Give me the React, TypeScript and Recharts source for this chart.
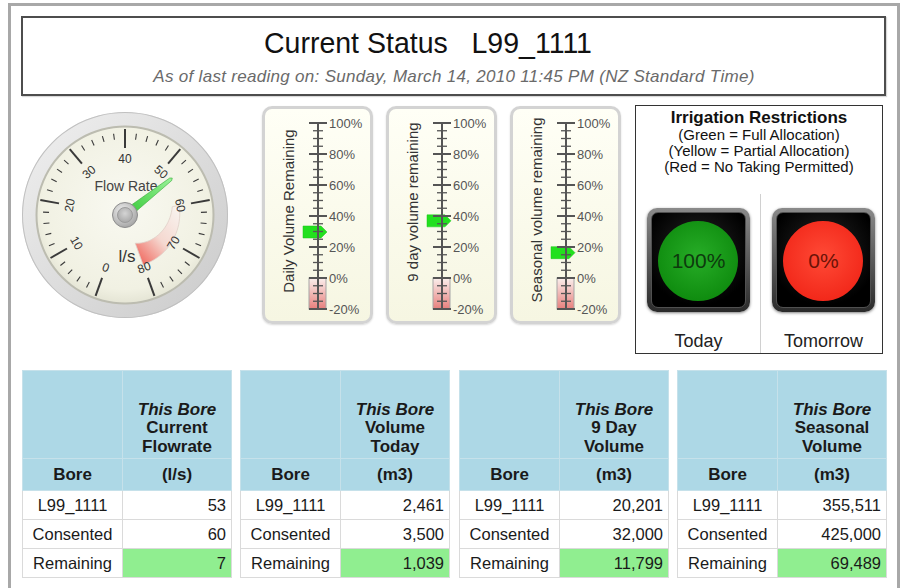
import React from 'react';
import {
  PieChart,
  Pie,
  Cell,
  RadialBarChart,
  RadialBar,
  PolarAngleAxis,
  BarChart,
  Bar,
  XAxis,
  YAxis,
  ReferenceArea,
} from 'recharts';

const FONT = '"Liberation Sans", Arial, Helvetica, sans-serif';

// header
const boreId = 'L99_1111';
const lastReading = 'Sunday, March 14, 2010 11:45 PM (NZ Standard Time)';

// bore tables
const tableTitles = [
  ['Current', 'Flowrate'],
  ['Volume', 'Today'],
  ['9 Day', 'Volume'],
  ['Seasonal', 'Volume'],
];
const tableUnits = ['(l/s)', '(m3)', '(m3)', '(m3)'];
const rowNames = [boreId, 'Consented', 'Remaining'];
const boreValues = [53, 2461, 20201, 355511];
const consentedValues = [60, 3500, 32000, 425000];
const remainingValues = [7, 1039, 11799, 69489];

// flow rate gauge
const gaugeMax = 80;
const gaugeTicks = [
  0, 2, 4, 6, 8, 10, 12, 14, 16, 18, 20, 22, 24, 26, 28, 30, 32, 34, 36, 38, 40,
  42, 44, 46, 48, 50, 52, 54, 56, 58, 60, 62, 64, 66, 68, 70, 72, 74, 76, 78, 80,
];

// volume remaining meters
const meterTitles = ['Daily Volume Remaining', '9 day volume remaining', 'Seasonal volume remaining'];
const meterTicks = [
  -20, -15, -10, -5, 0, 5, 10, 15, 20, 25, 30, 35, 40, 45, 50, 55, 60, 65, 70, 75, 80, 85, 90, 95, 100,
];
const meterValues = remainingValues.slice(1).map((r, i) => (r / consentedValues[i + 1]) * 100);

// irrigation restrictions
const restrictionDays = ['Today', 'Tomorrow'];
const restrictionAllocation = [100, 0];

const RAD = Math.PI / 180;
const polar = (cx: number, cy: number, r: number, a: number) => ({
  x: cx + r * Math.cos(-a * RAD),
  y: cy + r * Math.sin(-a * RAD),
});

// ---------- gauge ----------
const G_SIZE = 210;
const GC = 105;

function GaugeTick(props: any) {
  const { x, y, payload } = props;
  const v = Number(payload.value);
  const a = Math.atan2(-(y - GC), x - GC) / RAD;
  const major = v % 10 === 0;
  const p1 = polar(GC, GC, major ? 67 : 76, a);
  const p2 = polar(GC, GC, major ? 86 : 82, a);
  let rot = 90 - a;
  while (rot > 180) rot -= 360;
  while (rot < -180) rot += 360;
  if (rot > 95) rot -= 180;
  if (rot < -95) rot += 180;
  const lp = polar(GC, GC, 56, a);
  return (
    <g>
      <line x1={p1.x} y1={p1.y} x2={p2.x} y2={p2.y} stroke="#3a3a3a" strokeWidth={major ? 2 : 1.1} />
      {major && (
        <text
          x={lp.x}
          y={lp.y}
          textAnchor="middle"
          dominantBaseline="central"
          fontSize={12}
          fill="#333"
          fontFamily={FONT}
          transform={`rotate(${rot} ${lp.x} ${lp.y})`}
        >
          {v}
        </text>
      )}
    </g>
  );
}

function Needle(props: any) {
  const { cx, cy, endAngle } = props;
  const u = { x: Math.cos(-endAngle * RAD), y: Math.sin(-endAngle * RAD) };
  const n = { x: -u.y, y: u.x };
  const len = 58;
  const pts = [
    [cx + n.x * 4.5, cy + n.y * 4.5],
    [cx + u.x * len + n.x * 1.6, cy + u.y * len + n.y * 1.6],
    [cx + u.x * (len + 2), cy + u.y * (len + 2)],
    [cx + u.x * len - n.x * 1.6, cy + u.y * len - n.y * 1.6],
    [cx - n.x * 4.5, cy - n.y * 4.5],
  ]
    .map((p) => p.join(','))
    .join(' ');
  return (
    <g>
      <polygon points={pts} fill="url(#needleGrad)" stroke="#34a834" strokeWidth={0.6} />
      <circle cx={cx} cy={cy} r={12.5} fill="url(#hubOuter)" stroke="#8d8d8d" strokeWidth={1} />
      <circle cx={cx} cy={cy} r={7.5} fill="url(#hubInner)" stroke="#9c9c9c" strokeWidth={1} />
    </g>
  );
}

function BandShape(props: any) {
  const { cx, cy, startAngle, endAngle, outerRadius, fill } = props;
  if (!fill || fill === 'none') return <g />;
  const steps = 24;
  const outer: string[] = [];
  const inner: string[] = [];
  for (let k = 0; k <= steps; k++) {
    const t = k / steps;
    const a = startAngle + (endAngle - startAngle) * t;
    const po = polar(cx, cy, outerRadius - 2 * t, a);
    const pi = polar(cx, cy, 48 - 18 * t, a);
    outer.push(`${po.x},${po.y}`);
    inner.unshift(`${pi.x},${pi.y}`);
  }
  return <polygon points={[...outer, ...inner].join(' ')} fill={fill} stroke="#dfcfc8" strokeWidth={0.8} />;
}

function FlowGauge() {
  const band = [
    { name: 'normal', span: consentedValues[0] },
    { name: 'over', span: gaugeMax - consentedValues[0] },
  ];
  const flow = [{ name: 'Flow Rate', value: boreValues[0] }];
  return (
    <>
      <div style={{ position: 'absolute', left: 20, top: 110 }}>
        <PieChart width={G_SIZE} height={G_SIZE} margin={{ top: 0, right: 0, bottom: 0, left: 0 }}>
          <defs>
            <linearGradient id="bezelGrad" x1="0" y1="0" x2="1" y2="1">
              <stop offset="0%" stopColor="#f0f0f0" />
              <stop offset="100%" stopColor="#cacaca" />
            </linearGradient>
            <radialGradient id="faceGrad" cx="50%" cy="45%" r="55%">
              <stop offset="0%" stopColor="#f9f9f1" />
              <stop offset="85%" stopColor="#f1f1e3" />
              <stop offset="100%" stopColor="#e4e4d4" />
            </radialGradient>
            <linearGradient id="bandGrad" x1="1" y1="0" x2="0.15" y2="1">
              <stop offset="0%" stopColor="#f8f5f1" />
              <stop offset="55%" stopColor="#f5d8d0" />
              <stop offset="100%" stopColor="#f06a60" />
            </linearGradient>
          </defs>
          <Pie
            data={[{ v: 1 }]}
            dataKey="v"
            cx={GC}
            cy={GC}
            innerRadius={0}
            outerRadius={103}
            fill="url(#bezelGrad)"
            stroke="none"
            isAnimationActive={false}
          />
          <Pie
            data={[{ v: 1 }]}
            dataKey="v"
            cx={GC}
            cy={GC}
            innerRadius={102}
            outerRadius={103}
            fill="#c0c0c0"
            stroke="none"
            isAnimationActive={false}
          />
          <Pie
            data={[{ v: 1 }]}
            dataKey="v"
            cx={GC}
            cy={GC}
            innerRadius={0}
            outerRadius={89}
            fill="url(#faceGrad)"
            stroke="none"
            isAnimationActive={false}
          />
          <Pie
            data={[{ v: 1 }]}
            dataKey="v"
            cx={GC}
            cy={GC}
            innerRadius={87.5}
            outerRadius={89.5}
            fill="#bcbcb0"
            stroke="none"
            isAnimationActive={false}
          />
          <Pie
            data={band}
            dataKey="span"
            cx={GC}
            cy={GC}
            startAngle={250}
            endAngle={-70}
            innerRadius={32}
            outerRadius={55}
            shape={BandShape}
            isAnimationActive={false}
          >
            <Cell fill="none" stroke="none" />
            <Cell fill="url(#bandGrad)" stroke="#dfcfc8" />
          </Pie>
        </PieChart>
      </div>
      <div style={{ position: 'absolute', left: 66, top: 177, width: 120, textAlign: 'center', fontSize: 14, lineHeight: '18px', color: '#444' }}>
        Flow Rate
      </div>
      <div style={{ position: 'absolute', left: 97, top: 247, width: 60, textAlign: 'center', fontSize: 17, lineHeight: '20px', color: '#333' }}>
        l/s
      </div>
      <div style={{ position: 'absolute', left: 20, top: 110 }}>
        <RadialBarChart
          width={G_SIZE}
          height={G_SIZE}
          cx={GC}
          cy={GC}
          innerRadius={0}
          outerRadius={84}
          startAngle={250}
          endAngle={-70}
          data={flow}
          margin={{ top: 0, right: 0, bottom: 0, left: 0 }}
        >
          <defs>
            <linearGradient id="needleGrad" x1="0" y1="1" x2="1" y2="0">
              <stop offset="0%" stopColor="#2cc42c" />
              <stop offset="100%" stopColor="#9af39a" />
            </linearGradient>
            <radialGradient id="hubOuter" cx="40%" cy="35%" r="70%">
              <stop offset="0%" stopColor="#f0f0f0" />
              <stop offset="100%" stopColor="#a2a2a2" />
            </radialGradient>
            <radialGradient id="hubInner" cx="50%" cy="40%" r="60%">
              <stop offset="0%" stopColor="#d4d4d4" />
              <stop offset="100%" stopColor="#a8a8a8" />
            </radialGradient>
          </defs>
          <PolarAngleAxis
            type="number"
            domain={[0, gaugeMax]}
            ticks={gaugeTicks}
            tickCount={gaugeTicks.length}
            tick={GaugeTick}
            tickLine={false}
            axisLine={false}
          />
          <RadialBar dataKey="value" shape={Needle} isAnimationActive={false} />
        </RadialBarChart>
      </div>
    </>
  );
}

// ---------- meters ----------
const METER_W = 111;
const METER_H = 218;
const METER_AXIS = 55;
const METER_LEFT = [262, 386, 510];
const METER_TITLE_Y = [211, 202, 210];

function MeterTick(props: any) {
  const { y, payload } = props;
  const v = Number(payload.value);
  const major = v % 20 === 0;
  const h = major ? 9 : 5;
  return (
    <g>
      <line x1={METER_AXIS - h} x2={METER_AXIS + h} y1={y} y2={y} stroke="#555" strokeWidth={major ? 2 : 1.3} />
      {major && (
        <text x={METER_AXIS + 11} y={y} dy="0.36em" fontSize={13} fill="#555" fontFamily={FONT}>
          {v}%
        </text>
      )}
    </g>
  );
}

function Pointer(props: any) {
  const { y } = props;
  const ax = METER_AXIS;
  const d = `M${ax - 15},${y - 6} L${ax + 3},${y - 6} L${ax + 9},${y} L${ax + 3},${y + 6} L${ax - 15},${y + 6} Z`;
  return <path d={d} fill="#22e01e" stroke="#1cc41a" strokeWidth={0.5} />;
}

function Meter({ index }: { index: number }) {
  const left = METER_LEFT[index];
  const data = [{ name: meterTitles[index], value: meterValues[index] }];
  const gid = `redZone${index}`;
  return (
    <>
      <div
        style={{
          position: 'absolute',
          left,
          top: 106,
          width: METER_W,
          height: METER_H,
          boxSizing: 'border-box',
          border: '3px solid #d3d3d3',
          borderRadius: 10,
          background: 'linear-gradient(#fffff6, #f6f6e2)',
          boxShadow: '0 1px 2px rgba(0,0,0,0.15)',
        }}
      />
      <div style={{ position: 'absolute', left: left + 1, top: 106 }}>
        <BarChart
          width={METER_W}
          height={METER_H}
          data={data}
          margin={{ top: 17, right: 0, bottom: 15, left: 0 }}
          barCategoryGap={0}
        >
          <defs>
            <linearGradient id={gid} x1="0" y1="0" x2="0" y2="1">
              <stop offset="0%" stopColor="#fbeeee" />
              <stop offset="100%" stopColor="#e46a6a" />
            </linearGradient>
          </defs>
          <XAxis dataKey="name" hide />
          <YAxis
            orientation="right"
            type="number"
            width={56}
            domain={[-20, 100]}
            ticks={meterTicks}
            interval={0}
            tick={MeterTick}
            tickLine={false}
            axisLine={{ stroke: '#555', strokeWidth: 2 }}
          />
          <ReferenceArea
            y1={-20}
            y2={0}
            ifOverflow="visible"
            shape={(p: any) => (
              <rect
                x={METER_AXIS - 9}
                y={p.y}
                width={17}
                height={p.height}
                fill={`url(#${gid})`}
                fillOpacity={0.85}
                stroke="#a5a5a5"
                strokeWidth={1}
              />
            )}
          />
          <Bar dataKey="value" shape={Pointer} isAnimationActive={false} />
        </BarChart>
      </div>
      <div
        style={{
          position: 'absolute',
          left: left + 27 - 110,
          top: METER_TITLE_Y[index] - 9,
          width: 220,
          height: 18,
          lineHeight: '18px',
          textAlign: 'center',
          fontSize: 15,
          color: '#333',
          transform: 'rotate(-90deg)',
          transformOrigin: '50% 50%',
          whiteSpace: 'nowrap',
        }}
      >
        {meterTitles[index]}
      </div>
    </>
  );
}

// ---------- restrictions ----------
const LIGHT_LEFT = [647, 772];

function Light({ index }: { index: number }) {
  const on = restrictionAllocation[index] > 0;
  const gid = `light${index}`;
  return (
    <div
      style={{
        position: 'absolute',
        left: LIGHT_LEFT[index],
        top: 208,
        width: 103,
        height: 104,
        borderRadius: 10,
        background: 'linear-gradient(#8a8a8a, #2a2a2a)',
        boxShadow: '0 1px 3px rgba(0,0,0,0.5)',
      }}
    >
      <div
        style={{
          position: 'absolute',
          left: 4,
          top: 4,
          right: 4,
          bottom: 4,
          borderRadius: 7,
          background: 'radial-gradient(circle at 50% 40%, #262626, #000 75%)',
          border: '1px solid #505050',
        }}
      />
      <div style={{ position: 'absolute', left: 0, top: 0 }}>
        <PieChart width={103} height={104} margin={{ top: 0, right: 0, bottom: 0, left: 0 }}>
          <defs>
            <radialGradient id={gid} cx="50%" cy="45%" r="55%">
              <stop offset="0%" stopColor={on ? '#27ad27' : '#ff4a36'} />
              <stop offset="100%" stopColor={on ? '#0f8c0f' : '#f2281a'} />
            </radialGradient>
          </defs>
          <Pie
            data={[{ name: restrictionDays[index], allocation: restrictionAllocation[index] }]}
            dataKey={() => 1}
            cx={51}
            cy={53}
            innerRadius={0}
            outerRadius={40}
            fill={`url(#${gid})`}
            stroke="none"
            isAnimationActive={false}
          />
        </PieChart>
      </div>
      <div
        style={{
          position: 'absolute',
          left: 0,
          top: 40,
          width: 103,
          textAlign: 'center',
          fontSize: 21,
          lineHeight: '26px',
          color: on ? '#0d3a0d' : '#6b1207',
        }}
      >
        {restrictionAllocation[index]}%
      </div>
      <div
        style={{
          position: 'absolute',
          left: 0,
          top: 123,
          width: 103,
          textAlign: 'center',
          fontSize: 18,
          lineHeight: '20px',
          color: '#222',
        }}
      >
        {restrictionDays[index]}
      </div>
    </div>
  );
}

function Restrictions() {
  return (
    <>
      <div
        style={{
          position: 'absolute',
          left: 635,
          top: 105,
          width: 248,
          height: 249,
          boxSizing: 'border-box',
          border: '1.5px solid #333',
        }}
      />
      <div style={{ position: 'absolute', left: 635, top: 109, width: 248, textAlign: 'center', color: '#111' }}>
        <div style={{ fontSize: 17, fontWeight: 'bold', lineHeight: '18px' }}>Irrigation Restrictions</div>
        <div style={{ fontSize: 15, lineHeight: '16px' }}>(Green = Full Allocation)</div>
        <div style={{ fontSize: 15, lineHeight: '16px' }}>(Yellow = Partial Allocation)</div>
        <div style={{ fontSize: 15, lineHeight: '16px' }}>(Red = No Taking Permitted)</div>
      </div>
      <div style={{ position: 'absolute', left: 760, top: 194, width: 1, height: 159, background: '#d0d0d0' }} />
      {restrictionDays.map((d, i) => (
        <Light key={d} index={i} />
      ))}
    </>
  );
}

// ---------- tables ----------
const TABLE_LEFT = [22, 240, 459, 677];

function BoreTable({ index }: { index: number }) {
  const head = '1px solid #c6e1ea';
  const cell = '1px solid #dadada';
  const values = [boreValues[index], consentedValues[index], remainingValues[index]];
  const [t1, t2] = tableTitles[index];
  return (
    <table
      style={{
        position: 'absolute',
        left: TABLE_LEFT[index],
        top: 370,
        width: 209,
        borderCollapse: 'collapse',
        tableLayout: 'fixed',
        fontFamily: FONT,
        fontSize: 16.5,
        color: '#1a1a1a',
      }}
    >
      <colgroup>
        <col style={{ width: 100 }} />
        <col style={{ width: 109 }} />
      </colgroup>
      <tbody>
        <tr>
          <td style={{ height: 85, padding: 0, background: '#add8e6', border: head }} />
          <td
            style={{
              height: 85,
              padding: '0 0 2px',
              background: '#add8e6',
              border: head,
              textAlign: 'center',
              verticalAlign: 'bottom',
              fontWeight: 'bold',
              fontSize: 17,
              lineHeight: '18.5px',
            }}
          >
            <i>This Bore</i>
            <br />
            {t1}
            <br />
            {t2}
          </td>
        </tr>
        <tr>
          <td style={{ height: 31, padding: 0, background: '#add8e6', border: head, textAlign: 'center', fontWeight: 'bold', fontSize: 17 }}>
            Bore
          </td>
          <td style={{ height: 31, padding: 0, background: '#add8e6', border: head, textAlign: 'center', fontWeight: 'bold', fontSize: 17 }}>
            {tableUnits[index]}
          </td>
        </tr>
        {rowNames.map((name, r) => (
          <tr key={name}>
            <td style={{ height: 28, padding: 0, border: cell, textAlign: 'center' }}>{name}</td>
            <td
              style={{
                height: 28,
                padding: '0 5px 0 0',
                border: cell,
                textAlign: 'right',
                background: r === 2 ? '#90ee90' : '#fff',
              }}
            >
              {values[r].toLocaleString('en-US')}
            </td>
          </tr>
        ))}
      </tbody>
    </table>
  );
}

export default function App() {
  return (
    <div
      style={{
        position: 'absolute',
        left: 0,
        top: 0,
        width: 901,
        height: 588,
        overflow: 'hidden',
        background: '#fff',
        fontFamily: FONT,
      }}
    >
      <div
        style={{
          position: 'absolute',
          left: 8,
          top: 3,
          width: 892,
          height: 620,
          boxSizing: 'border-box',
          borderTop: '3px solid #a8a8a8',
          borderLeft: '3px solid #a8a8a8',
          borderRight: '3px solid #a8a8a8',
        }}
      />
      <div
        style={{
          position: 'absolute',
          left: 21,
          top: 16,
          width: 865,
          height: 80,
          boxSizing: 'border-box',
          border: '2px solid #4d4d4d',
          boxShadow: '1px 1px 1px rgba(0,0,0,0.15)',
        }}
      />
      <div
        style={{
          position: 'absolute',
          left: 128,
          top: 25,
          width: 600,
          textAlign: 'center',
          fontSize: 30,
          lineHeight: '36px',
          color: '#111',
          whiteSpace: 'pre',
          transform: 'scaleX(0.95)',
          transformOrigin: '50% 50%',
        }}
      >
        {`Current Status   ${boreId}`}
      </div>
      <div
        style={{
          position: 'absolute',
          left: 104,
          top: 68,
          width: 700,
          textAlign: 'center',
          fontSize: 17,
          letterSpacing: 0.3,
          lineHeight: '18px',
          fontStyle: 'italic',
          color: '#6a6a6a',
        }}
      >
        As of last reading on: {lastReading}
      </div>
      <FlowGauge />
      {meterTitles.map((t, i) => (
        <Meter key={t} index={i} />
      ))}
      <Restrictions />
      {tableTitles.map((t, i) => (
        <BoreTable key={t.join()} index={i} />
      ))}
    </div>
  );
}
